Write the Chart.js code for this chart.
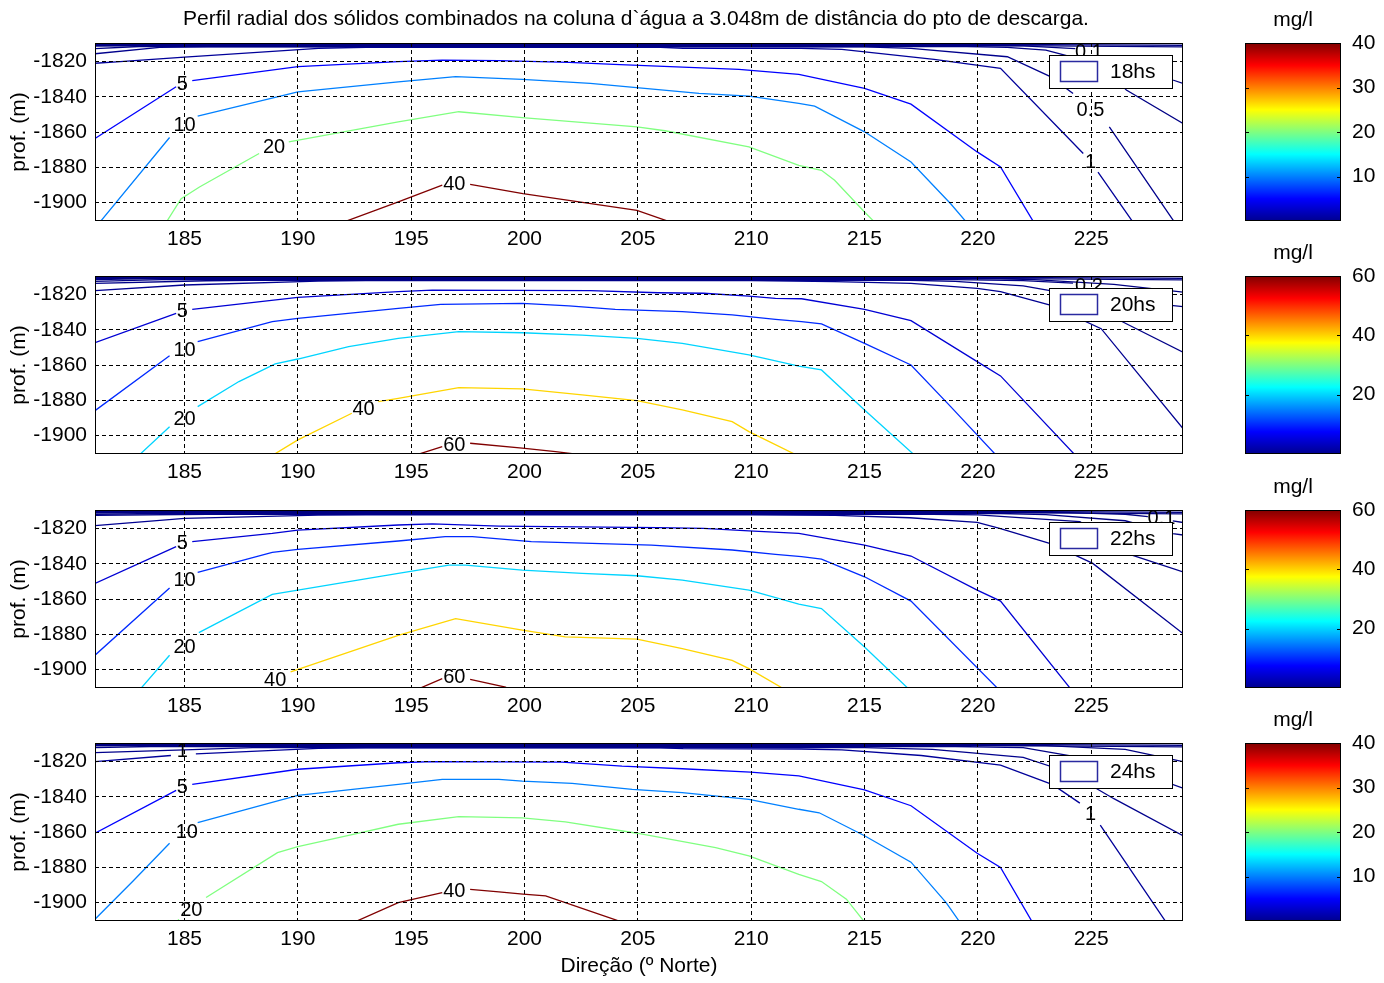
<!DOCTYPE html>
<html>
<head>
<meta charset="utf-8">
<title>Perfil radial dos sólidos combinados</title>
<script src="https://cdn.jsdelivr.net/npm/chart.js@4.4.1/dist/chart.umd.min.js"></script>
<style>
  html, body { margin: 0; background: #fff; }
  #fig { position: relative; width: 1384px; height: 983px; overflow: hidden; background: #fff; }
  #fig canvas { position: absolute; }
</style>
</head>
<body>
<div id="fig"></div>
<script>
// axes
const xTicks = [185, 190, 195, 200, 205, 210, 215, 220, 225]
const yTicks = [-1900, -1880, -1860, -1840, -1820]
const xRange = [181.05, 229.05]
const yRange = [-1910.4, -1809.4]

// one panel per hour, each with its own colour scale
const hours = ['18hs', '20hs', '22hs', '24hs']
const cbarMax = [40, 60, 60, 40]
const cbarTicks = [[10, 20, 30, 40], [20, 40, 60], [20, 40, 60], [10, 20, 30, 40]]

// near-zero levels crowding the top of every panel
const band_001 = [[181.05, -1809.7], [229.05, -1809.7]]
const band_002 = [[181.05, -1810.2], [221, -1810.2], [229.05, -1810.8]]
const band_005 = [[181.05, -1810.7], [220, -1810.7], [229.05, -1811.6]]

// contour polylines [direction, depth]; null = gap for a label
const h18_c01 = [[181.05, -1811.2], [182.5, -1811.0], [222, -1811.0], [224.3, -1812.6], null, [225.6, -1816.5], [228.6, -1830.4], [229.05, -1832.3]]
const h18_c02 = [[181.05, -1812.6], [183, -1811.4], [219.5, -1811.4], [221.3, -1811.9], [223, -1813.5], [225.5, -1822], [226.55, -1836.1], [229.05, -1855.1]]
const h18_c05 = [[181.05, -1815.5], [183.9, -1811.9], [186, -1811.6], [215, -1811.6], [217.05, -1812.4], [221.3, -1817.2], [223.2, -1828.5], [224.2, -1838], null, [225.8, -1857], [228.67, -1911]]
const h18_c1 = [[181.05, -1820.9], [182, -1820.1], [185, -1817.4], [190.9, -1812.4], [193, -1811.8], [206, -1811.8], [207, -1812.4], [212.2, -1812.4], [214, -1813], [218.07, -1818.7], [221, -1823.8], [224.65, -1872.1], null, [225.3, -1882.6], [226.84, -1911]]
const h18_c5 = [[181.05, -1863.6], [184.63, -1834.2], null, [185.34, -1830.8], [190, -1822.8], [194.43, -1820], [196.37, -1819.1], [198.87, -1819.4], [201.96, -1820.4], [203.94, -1821.5], [209.46, -1824.4], [212.1, -1827.2], [215, -1835.2], [217.05, -1844.1], [219.97, -1871.2], [221, -1879.7], [222.46, -1911]]
const h18_c10 = [[181.27, -1911], [184.34, -1863], null, [185.58, -1850.9], [190, -1837.1], [194.43, -1831.4], [196.96, -1828.5], [199.9, -1830], [202.9, -1832.3], [207.7, -1838], [209.9, -1839.5], [212.1, -1843.7], [212.8, -1845.2], [215, -1859.8], [217.05, -1876.9], [218.8, -1900.6], [219.49, -1911]]
const h18_c20 = [[184.2, -1911], [184.85, -1897.7], [185.66, -1891.1], [188.29, -1872.1], null, [189.6, -1865.5], [194.43, -1854.1], [197.1, -1848.4], [199.9, -1851.7], [204.96, -1857], [206.2, -1859.2], [209.9, -1868.3], [212.1, -1878.8], [213.1, -1881.6], [213.68, -1887.3], [215, -1905.3], [215.44, -1911]]
const h18_c40 = [[192.02, -1911], [194.43, -1899.6], [196.37, -1890.1], null, [197.6, -1889.6], [199.93, -1894.9], [202.4, -1899.6], [204.96, -1904.4], [206.44, -1911]]
const h18_labels = [['5', 184.9, -1832.7], ['10', 185, -1856], ['20', 188.95, -1868.8], ['40', 196.9, -1889.4], ['0.1', 224.9, -1814.5], ['0.5', 224.97, -1847.5], ['1', 224.97, -1877]]

const h20_c01 = [[181.05, -1811.5], [183, -1811.0], [221, -1811.0], [222.5, -1811.4], [226, -1814.2], [229.05, -1818.5]]
const h20_c02 = [[181.05, -1812.5], [184, -1811.5], [219, -1811.5], [222, -1812], [224.2, -1813.4], null, [225.6, -1817.2], [228.3, -1825.8], [229.05, -1826.8]]
const h20_c05 = [[181.05, -1813.6], [185.95, -1812.1], [187.9, -1811.8], [217, -1811.8], [219, -1812.5], [222, -1815], [224, -1819.5], [226.55, -1836.5], [229.05, -1852.6]]
const h20_c1 = [[181.05, -1817.7], [185, -1814.5], [190.9, -1812.3], [193, -1812], [210, -1812], [213.68, -1812.6], [217.05, -1813.6], [219.97, -1816.4], [221, -1818.3], [223.19, -1825.9], [225.44, -1839.3], [229.05, -1896]]
const h20_c5 = [[181.05, -1847.2], [184.63, -1830.6], null, [185.34, -1828.3], [190, -1821.5], [194.43, -1818.3], [195.93, -1817.4], [202.9, -1817.7], [205.9, -1818.9], [207.9, -1819.2], [209.9, -1820.8], [211.07, -1822.1], [212.22, -1822.3], [215, -1828.3], [217.05, -1834.7], [219.97, -1858], [221, -1866.1], [224.29, -1911]]
const h20_c10 = [[181.05, -1885.8], [184.34, -1854.6], null, [185.58, -1846.7], [188.87, -1835.3], [190, -1833.4], [194.43, -1827.8], [196.3, -1825.5], [199.9, -1824.9], [201.96, -1826.4], [204, -1828.3], [206.96, -1829.6], [209.16, -1831.5], [211.07, -1834], [212.22, -1835.3], [213.1, -1836.6], [215, -1847.6], [217.05, -1859.9], [218.8, -1883.5], [220.8, -1911]]
const h20_c20 = [[183.0, -1911], [184.34, -1894.9], null, [185.58, -1883.5], [187.4, -1869.3], [189, -1859.3], [190, -1856.5], [192.24, -1849.5], [194.43, -1844.8], [197.1, -1841], [199.9, -1841.6], [202.54, -1842.9], [204.96, -1844.8], [206.96, -1847.6], [209.9, -1854.2], [212.1, -1860.6], [213.1, -1862.7], [215, -1885.4], [217.2, -1911]]
const h20_c40 = [[188.9, -1911], [190, -1902.4], [192.38, -1887.3], null, [193.55, -1880.7], [194.43, -1878.8], [197.1, -1872.7], [199.9, -1873.5], [202.54, -1876.9], [204.96, -1880.1], [206.96, -1885.4], [209.16, -1892], [209.9, -1897.7], [212, -1911]]
const h20_c60 = [[195.2, -1911], [196.37, -1906.2], null, [197.6, -1904.3], [199.9, -1907.1], [201.37, -1909], [202.6, -1911]]
const h20_labels = [['5', 184.9, -1829.4], ['10', 185, -1851.4], ['20', 185, -1890.8], ['40', 192.9, -1885.2], ['60', 196.9, -1905.3], ['0.2', 224.9, -1815.2]]

const h22_c01 = [[181.05, -1811.0], [183, -1810.9], [224, -1810.9], [226.5, -1811.8], [227.5, -1813.2], null, [228.6, -1815.6], [229.05, -1816.5]]
const h22_c02 = [[181.05, -1811.8], [184, -1811.4], [221, -1811.4], [223, -1812], [226.5, -1815.5], [228.6, -1822.8], [229.05, -1823.6]]
const h22_c05 = [[181.05, -1812.4], [186, -1811.8], [218, -1811.8], [220, -1812.2], [224.5, -1816], [226.8, -1835], [229.05, -1844.5]]
const h22_c1 = [[181.05, -1818.3], [185, -1814.1], [190.9, -1812.3], [193, -1812.2], [210, -1812.2], [213.7, -1812.5], [217, -1813.8], [219.97, -1816.4], [221, -1819.9], [223.2, -1828.5], [225.07, -1839.7], [229.05, -1879.5]]
const h22_c5 = [[181.05, -1851.1], [184.63, -1830.2], null, [185.34, -1827.4], [188.87, -1822.7], [190, -1820.8], [194.43, -1817.9], [195.93, -1817.3], [198.87, -1818.5], [205.9, -1819.4], [207.9, -1819.8], [209.9, -1821.3], [212.1, -1822.7], [215, -1829.3], [217.05, -1835.5], [219.97, -1854.9], [221, -1861.1], [224.1, -1911]]
const h22_c10 = [[181.05, -1891.8], [184.34, -1853.6], null, [185.58, -1844.8], [188.87, -1833.5], [190, -1831.8], [194.43, -1827], [196.5, -1824.5], [197.7, -1824.5], [200.3, -1827.4], [202.98, -1828.3], [205.6, -1829.3], [209.16, -1832.1], [211.07, -1834.6], [212.22, -1835.9], [213.1, -1837.3], [215, -1847.3], [217.05, -1861.1], [220.9, -1911]]
const h22_c20 = [[183.05, -1911], [184.34, -1891.8], null, [185.63, -1879], [188.87, -1857.3], [190, -1854.9], [194.43, -1845.4], [196.66, -1840.7], [197.4, -1840.7], [199.9, -1843.5], [202.54, -1845.4], [204.96, -1846.7], [206.96, -1849.2], [209.9, -1854.9], [212.1, -1862.8], [213.1, -1865.3], [215, -1887.1], [216.95, -1911]]
const h22_c40 = [[188.3, -1911], [188.5, -1910.2], null, [189.68, -1901.3], [194.43, -1880.5], [196.96, -1871], [199.9, -1877.6], [201.8, -1881.4], [204.96, -1882.7], [206.96, -1888.1], [209.16, -1894.7], [209.9, -1899.4], [211.45, -1911]]
const h22_c60 = [[195.3, -1911], [196.37, -1905.1], null, [197.6, -1905.5], [199.16, -1909.9], [199.3, -1911]]
const h22_labels = [['5', 184.9, -1828.4], ['10', 185, -1849.3], ['20', 185, -1887.2], ['40', 189, -1906], ['60', 196.9, -1904.3], ['0.1', 228.1, -1814.1]]

const h24_c01 = [[181.05, -1811.0], [183, -1810.9], [223, -1810.9], [226.5, -1813], [229.05, -1820]]
const h24_c02 = [[181.05, -1812], [183.5, -1811.4], [219, -1811.4], [222, -1812], [226, -1821], [229.05, -1835]]
const h24_c05 = [[181.05, -1814.9], [185, -1813.3], [188, -1812], [215, -1812], [218, -1813], [222, -1817.5], [224, -1826], [226, -1841], [229.05, -1862]]
const h24_c1 = [[181.05, -1820], [184.4, -1816.5], null, [185.5, -1815.6], [190.9, -1812.4], [193, -1812.2], [206, -1812.2], [207, -1812.6], [212.2, -1812.8], [214, -1813.3], [217.5, -1816.5], [221, -1822], [223.3, -1833], [224.5, -1843.5], null, [225.4, -1856], [228.3, -1911]]
const h24_c5 = [[181.05, -1860.6], [184.63, -1836.3], null, [185.34, -1832.9], [190, -1824.3], [194.43, -1820.6], [195.93, -1820], [201.66, -1820.2], [204.3, -1822.5], [206.96, -1824], [209.97, -1825.9], [212.1, -1828.1], [215, -1836], [217.05, -1845], [219.97, -1872], [221, -1880], [222.4, -1911]]
const h24_c10 = [[181.05, -1909.4], [182.73, -1887.7], [184.34, -1866.3], null, [185.58, -1854.6], [190, -1839.1], [194.43, -1832.9], [196.37, -1830], [198.87, -1830], [199.9, -1831], [202.1, -1832.3], [204.75, -1835.7], [206.96, -1837.6], [209.9, -1841.4], [212.1, -1847], [213, -1849], [215, -1862], [217.05, -1877], [218.6, -1900], [219.2, -1911]]
const h24_c20 = [[184.7, -1911], [184.74, -1909.4], null, [185.95, -1897.1], [189.1, -1871.6], [190, -1868.2], [192.24, -1861.8], [194.43, -1855.5], [197.1, -1851.2], [199.9, -1851.9], [201.8, -1854.2], [204.96, -1860.6], [208.43, -1868.8], [209.9, -1873.5], [212.1, -1883.9], [213.1, -1888], [214.2, -1898], [215, -1911]]
const h24_c40 = [[192.5, -1911], [194.43, -1900], [196.37, -1894.3], null, [197.6, -1892.4], [198.87, -1893.9], [199.93, -1895.2], [200.93, -1896.2], [204.3, -1911]]
const h24_labels = [['1', 184.9, -1814], ['5', 184.9, -1834.8], ['10', 185.1, -1860], ['20', 185.3, -1904.5], ['40', 196.9, -1893.4], ['1', 224.97, -1849.9]]

const FONT = '"Liberation Sans", Arial, sans-serif'
const TOPS = [43, 276, 510, 743]
const PLOT_H = 178
const TITLE = 'Perfil radial dos sólidos combinados na coluna d`água a 3.048m de distância do pto de descarga.'

const panels = [
  { lines: [[0.01, band_001], [0.02, band_002], [0.05, band_005], [0.1, h18_c01], [0.2, h18_c02], [0.5, h18_c05], [1, h18_c1], [5, h18_c5], [10, h18_c10], [20, h18_c20], [40, h18_c40]], labels: h18_labels },
  { lines: [[0.01, band_001], [0.02, band_002], [0.05, band_005], [0.1, h20_c01], [0.2, h20_c02], [0.5, h20_c05], [1, h20_c1], [5, h20_c5], [10, h20_c10], [20, h20_c20], [40, h20_c40], [60, h20_c60]], labels: h20_labels },
  { lines: [[0.01, band_001], [0.02, band_002], [0.05, band_005], [0.1, h22_c01], [0.2, h22_c02], [0.5, h22_c05], [1, h22_c1], [5, h22_c5], [10, h22_c10], [20, h22_c20], [40, h22_c40], [60, h22_c60]], labels: h22_labels },
  { lines: [[0.01, band_001], [0.02, band_002], [0.05, band_005], [0.1, h24_c01], [0.2, h24_c02], [0.5, h24_c05], [1, h24_c1], [5, h24_c5], [10, h24_c10], [20, h24_c20], [40, h24_c40]], labels: h24_labels }
]

// matlab style jet colormap, v in [0, 1]
function jet (v) {
  const c = t => Math.round(255 * Math.max(0, Math.min(1, 1.5 - Math.abs(4 * v - t))))
  return 'rgb(' + c(3) + ',' + c(2) + ',' + c(1) + ')'
}

function addCanvas (left, top, w, h) {
  const c = document.createElement('canvas')
  c.width = w
  c.height = h
  c.style.left = left + 'px'
  c.style.top = top + 'px'
  c.style.width = w + 'px'
  c.style.height = h + 'px'
  document.getElementById('fig').appendChild(c)
  return c
}

function toPoints (pts) {
  let lastX = null
  return pts.map(p => {
    if (p === null) return { x: lastX, y: null }
    lastX = p[0]
    return { x: p[0], y: p[1] }
  })
}

function panelDecor (i) {
  return {
    id: 'panelDecor',
    afterDraw (chart) {
      const { ctx, chartArea: a, scales } = chart
      ctx.save()
      // contour labels
      ctx.font = '20px ' + FONT
      ctx.fillStyle = '#000'
      ctx.textAlign = 'center'
      ctx.textBaseline = 'middle'
      for (const [txt, x, y] of panels[i].labels) {
        ctx.fillText(txt, scales.x.getPixelForValue(x), scales.y.getPixelForValue(y))
      }
      // axes box
      ctx.strokeStyle = '#000'
      ctx.lineWidth = 1
      ctx.strokeRect(a.left + 0.5, a.top + 0.5, a.width - 1, a.height - 1)
      // legend
      const bw = 123
      const bh = 33
      const bx = Math.round(a.right - 11 - bw)
      const by = Math.round(a.top + 12)
      ctx.fillStyle = '#fff'
      ctx.fillRect(bx, by, bw, bh)
      ctx.strokeRect(bx + 0.5, by + 0.5, bw, bh)
      ctx.strokeStyle = '#2a2aa0'
      ctx.lineWidth = 1.5
      ctx.strokeRect(bx + 11.5, by + 6.5, 37, 20)
      ctx.fillStyle = '#000'
      ctx.textAlign = 'left'
      ctx.font = '21px ' + FONT
      ctx.fillText(hours[i], bx + 61, by + bh / 2 + 1)
      if (i === 0) {
        ctx.textAlign = 'center'
        ctx.fillText(TITLE, 636, 16)
      }
      ctx.restore()
    }
  }
}

function makePanel (i) {
  const last = i === panels.length - 1
  const top = TOPS[i] - 40
  const h = last ? 983 - top : 40 + PLOT_H + 55
  const canvas = addCanvas(0, top, 1200, h)
  const cmax = cbarMax[i]
  const datasets = panels[i].lines.map(([level, pts]) => ({
    label: String(level),
    data: toPoints(pts),
    showLine: true,
    borderColor: jet(level / cmax),
    borderWidth: 1.3,
    pointRadius: 0,
    fill: false,
    spanGaps: false
  }))
  const tickFont = { family: FONT, size: 21 }
  return new Chart(canvas, {
    type: 'scatter',
    data: { datasets },
    options: {
      responsive: false,
      animation: false,
      events: [],
      layout: { padding: { top: 40, right: 17, left: 0, bottom: 0 } },
      plugins: { legend: { display: false }, tooltip: { enabled: false } },
      scales: {
        x: {
          type: 'linear',
          min: xRange[0],
          max: xRange[1],
          afterBuildTicks: s => { s.ticks = xTicks.map(v => ({ value: v })) },
          afterFit: s => { s.height = h - 40 - PLOT_H },
          ticks: { color: '#000', font: tickFont, padding: 6, maxRotation: 0, autoSkip: false, callback: v => String(v) },
          grid: { color: '#000', lineWidth: 1, drawTicks: false, z: 1 },
          border: { display: false, dash: [4, 3] },
          title: {
            display: last,
            text: 'Direção (º Norte)',
            color: '#000',
            font: tickFont,
            padding: { top: 0, bottom: 4 }
          }
        },
        y: {
          type: 'linear',
          min: yRange[0],
          max: yRange[1],
          afterBuildTicks: s => { s.ticks = yTicks.map(v => ({ value: v })) },
          afterFit: s => { s.width = 95 },
          ticks: { color: '#000', font: tickFont, padding: 8, autoSkip: false, callback: v => String(v) },
          grid: { color: '#000', lineWidth: 1, drawTicks: false, z: 1 },
          border: { display: false, dash: [4, 3] },
          title: { display: true, text: 'prof. (m)', color: '#000', font: tickFont, padding: { top: 7, bottom: 0 } }
        }
      }
    },
    plugins: [panelDecor(i)]
  })
}

function jetGradient (chart) {
  const a = chart.chartArea
  if (!a) return '#000080'
  const g = chart.ctx.createLinearGradient(0, a.bottom, 0, a.top)
  g.addColorStop(0, '#00008f')
  g.addColorStop(0.125, '#0000ff')
  g.addColorStop(0.375, '#00ffff')
  g.addColorStop(0.625, '#ffff00')
  g.addColorStop(0.875, '#ff0000')
  g.addColorStop(1, '#800000')
  return g
}

const cbarDecor = {
  id: 'cbarDecor',
  afterDraw (chart) {
    const { ctx, chartArea: a, scales } = chart
    ctx.save()
    ctx.strokeStyle = '#000'
    ctx.lineWidth = 1
    ctx.strokeRect(a.left + 0.5, a.top + 0.5, a.width - 1, a.height - 1)
    ctx.beginPath()
    for (const t of scales.y.ticks) {
      const y = Math.round(scales.y.getPixelForValue(t.value)) + 0.5
      ctx.moveTo(a.left, y)
      ctx.lineTo(a.left + 4, y)
      ctx.moveTo(a.right, y)
      ctx.lineTo(a.right - 4, y)
    }
    ctx.stroke()
    ctx.fillStyle = '#000'
    ctx.font = '21px ' + FONT
    ctx.textAlign = 'center'
    ctx.textBaseline = 'middle'
    ctx.fillText('mg/l', (a.left + a.right) / 2, a.top - 23)
    ctx.restore()
  }
}

function makeColorbar (i) {
  const top = TOPS[i] - 40
  const h = 40 + PLOT_H + 30
  const canvas = addCanvas(1200, top, 184, h)
  return new Chart(canvas, {
    type: 'bar',
    data: {
      labels: ['mg/l'],
      datasets: [{
        data: [[0, cbarMax[i]]],
        backgroundColor: ctx => jetGradient(ctx.chart),
        borderWidth: 0,
        barPercentage: 1,
        categoryPercentage: 1
      }]
    },
    options: {
      responsive: false,
      animation: false,
      events: [],
      layout: { padding: { top: 40, left: 45, right: 0, bottom: 30 } },
      plugins: { legend: { display: false }, tooltip: { enabled: false } },
      scales: {
        x: { display: false },
        y: {
          position: 'right',
          min: 0,
          max: cbarMax[i],
          afterBuildTicks: s => { s.ticks = cbarTicks[i].map(v => ({ value: v })) },
          afterFit: s => { s.width = 43 },
          ticks: { color: '#000', font: { family: FONT, size: 21 }, padding: 3, callback: v => String(v) },
          grid: { display: false },
          border: { display: false }
        }
      }
    },
    plugins: [cbarDecor]
  })
}

for (let i = 0; i < panels.length; i++) {
  makePanel(i)
  makeColorbar(i)
}
</script>
</body>
</html>
